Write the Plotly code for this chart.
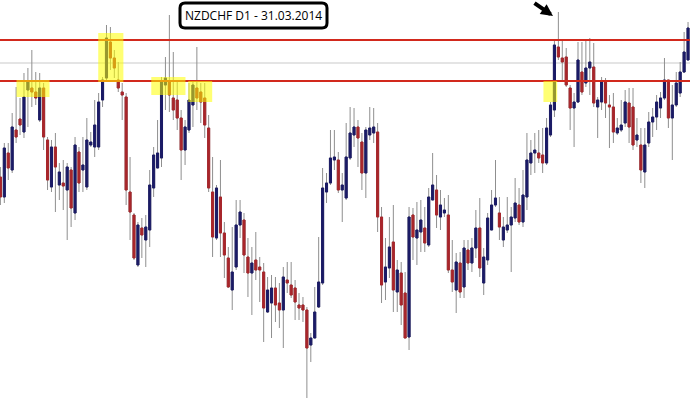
import plotly.graph_objects as go

# Daily candles NZDCHF (price units, arbitrary scale)
open_ = [228,208,252,235,275,286,273,315,317,313,285,317,265,218,258,220,222,215,235,192,
         253,235,218,260,258,258,305,327,363,347,325,313,308,213,190,140,177,165,175,217,
         237,247,320,323,307,305,287,255,275,300,317,313,307,277,213,167,208,172,147,115,
         138,180,185,148,132,145,138,133,93,102,117,102,95,125,120,117,100,100,95,60,
         67,98,122,213,222,245,245,215,207,247,270,278,263,232,270,272,273,188,123,137,
         163,113,132,112,68,190,167,173,177,160,205,215,188,192,190,135,115,142,118,155,
         142,157,177,122,145,175,200,192,165,175,180,187,200,183,208,242,252,252,250,242,
         270,295,358,347,348,317,297,303,333,322,337,338,298,303,323,300,298,272,275,282,
         302,298,265,260,233,262,283,288,297,307,325,287,300,312,333,345]
high = [238,262,262,292,318,307,332,337,355,333,332,322,268,265,272,242,245,242,238,268,
        258,268,287,273,305,312,328,380,378,355,343,322,312,248,192,183,187,190,235,258,
        285,328,348,390,353,325,295,285,322,323,358,322,322,290,248,220,245,183,158,178,
        205,205,192,167,158,173,148,142,128,130,128,122,138,143,143,125,112,108,98,72,
        118,168,237,232,275,275,253,232,282,298,297,285,272,278,298,297,282,198,167,188,
        200,145,143,133,198,197,203,205,198,217,252,230,215,207,210,165,152,153,165,165,
        167,195,207,157,192,215,245,208,188,208,198,227,217,235,272,265,272,275,277,287,
        303,365,393,365,357,320,312,363,363,365,367,362,308,328,327,310,312,287,305,315,
        317,317,287,277,277,293,297,310,313,347,325,320,333,343,373,383]
low = [200,202,225,232,262,270,267,278,298,300,283,255,215,213,193,205,195,165,178,185,
       213,213,215,258,248,255,298,323,335,327,313,285,200,165,145,138,147,138,158,208,
       237,238,295,293,285,275,225,240,272,278,295,282,267,213,148,165,148,127,117,95,
       135,167,132,108,90,125,103,63,92,67,83,77,57,112,107,85,85,83,7,43,
       67,97,120,202,220,235,212,183,205,245,258,238,215,207,265,262,173,102,105,127,
       93,93,80,67,55,145,140,153,153,158,205,177,175,188,132,113,92,107,107,135,
       133,147,128,110,140,175,198,165,158,172,133,183,180,178,195,230,232,242,232,240,
       268,288,345,325,318,275,258,302,310,318,310,298,267,295,287,257,262,270,273,278,
       262,255,258,222,217,258,268,275,287,305,277,245,298,308,332,345]
close = [208,257,237,278,268,280,308,323,313,307,317,268,225,258,238,233,219,238,197,260,
         222,240,265,263,280,303,325,367,347,337,317,310,215,193,147,180,170,178,220,250,
         252,323,327,310,295,287,255,278,305,320,307,303,280,217,168,217,172,150,118,133,
         180,193,150,132,142,135,135,97,115,117,100,95,128,122,110,103,97,95,57,67,
         93,123,217,222,247,248,215,220,248,272,278,267,232,275,277,278,188,120,138,158,
         115,135,100,67,188,168,175,185,162,208,220,190,200,195,135,123,143,113,157,142,
         157,177,137,148,187,200,207,178,178,180,188,202,183,210,245,252,255,247,242,277,
         300,360,348,343,320,297,303,345,313,337,343,302,305,323,302,298,273,277,280,303,
         278,260,270,235,260,283,288,303,307,325,287,300,322,333,353,377]

title_text = "NZDCHF D1 - 31.03.2014"
resistance_levels = [365, 324]
mid_level = 342

days = list(range(len(open_)))
body_hi = [max(o, c) for o, c in zip(open_, close)]
body_lo = [min(o, c) for o, c in zip(open_, close)]

BLUE = "#1b1b66"
RED = "#a8262b"
WICK = "#8f8f8f"

fig = go.Figure()
# wicks
fig.add_trace(go.Candlestick(
    x=days, open=open_, high=high, low=low, close=close,
    increasing=dict(line=dict(color=WICK, width=1), fillcolor=WICK),
    decreasing=dict(line=dict(color=WICK, width=1), fillcolor=WICK),
    hoverinfo="skip", showlegend=False))
# bodies
fig.add_trace(go.Candlestick(
    x=days, open=open_, high=body_hi, low=body_lo, close=close,
    increasing=dict(line=dict(color=BLUE, width=1), fillcolor=BLUE),
    decreasing=dict(line=dict(color=RED, width=1), fillcolor=RED),
    hoverinfo="skip", showlegend=False))

shapes = []
# thin grey level line
shapes.append(dict(type="line", xref="paper", x0=0, x1=1, yref="y", y0=mid_level, y1=mid_level,
                   line=dict(color="#c9c9c9", width=1), layer="below"))
for lv in resistance_levels:
    shapes.append(dict(type="line", xref="paper", x0=0, x1=1, yref="y", y0=lv, y1=lv,
                       line=dict(color="#d2291d", width=2), layer="above"))

# yellow highlight zones (index units x, price units y)
zones = [(4.1, 12.5, 308, 325), (24.9, 31.3, 323, 372), (38.4, 47.1, 310, 328),
         (47.8, 53.9, 303, 324), (138.2, 141.7, 303, 324)]
for x0, x1, y0, y1 in zones:
    shapes.append(dict(type="rect", xref="x", yref="y", x0=x0, x1=x1, y0=y0, y1=y1,
                       fillcolor="rgb(255,255,0)", opacity=0.55, line=dict(width=0),
                       layer="above"))

# rounded title box (paper coords)
W, H = 690.0, 405.0
bx0, bx1, by0, by1, r = 180, 327, 3, 28, 5
def px(xp):
    return xp / W
def py(yp):
    return 1 - yp / H
path = (f"M {px(bx0+r)},{py(by0)} L {px(bx1-r)},{py(by0)} Q {px(bx1)},{py(by0)} {px(bx1)},{py(by0+r)} "
        f"L {px(bx1)},{py(by1-r)} Q {px(bx1)},{py(by1)} {px(bx1-r)},{py(by1)} "
        f"L {px(bx0+r)},{py(by1)} Q {px(bx0)},{py(by1)} {px(bx0)},{py(by1-r)} "
        f"L {px(bx0)},{py(by0+r)} Q {px(bx0)},{py(by0)} {px(bx0+r)},{py(by0)} Z")
shapes.append(dict(type="path", xref="paper", yref="paper", path=path,
                   fillcolor="white", line=dict(color="black", width=3), layer="above"))

annotations = [
    dict(xref="paper", yref="paper", x=px((bx0 + bx1) / 2), y=py((by0 + by1) / 2),
         text=title_text, showarrow=False, xanchor="center", yanchor="middle",
         font=dict(family="Open Sans, DejaVu Sans", size=12, color="black")),
    dict(xref="paper", yref="paper", x=px(553), y=py(16), text="", showarrow=True,
         ax=-20, ay=-14, arrowhead=2, arrowsize=0.6, arrowwidth=4, arrowcolor="black",
         standoff=0),
]

fig.update_layout(
    width=690, height=405,
    margin=dict(l=0, r=0, t=0, b=0),
    paper_bgcolor="white", plot_bgcolor="white",
    showlegend=False,
    shapes=shapes, annotations=annotations,
    xaxis=dict(range=[-0.1, 175.5], visible=False, rangeslider=dict(visible=False),
               showgrid=False, zeroline=False),
    yaxis=dict(range=[0, 405], visible=False, showgrid=False, zeroline=False),
    boxgap=0.25,
)

fig.write_html("out.html", config={"displayModeBar": False},
               post_script="document.body.style.margin='0';document.body.style.overflow='hidden';")
